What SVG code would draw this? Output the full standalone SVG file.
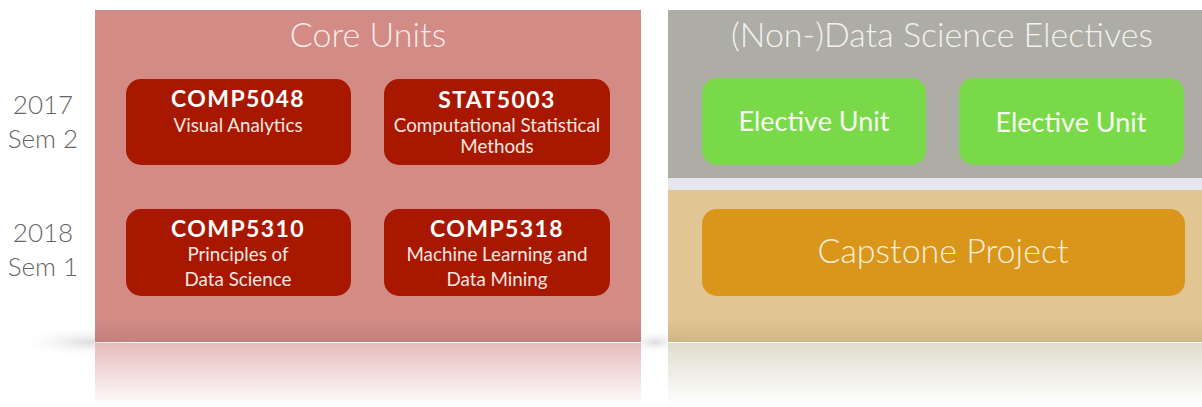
<svg xmlns="http://www.w3.org/2000/svg" width="1202" height="407" viewBox="0 0 1202 407">
<defs>
<style>
.lbl{font-family:"Lato","Open Sans",sans-serif;fill:#666666;font-size:26px;text-anchor:middle;font-weight:300}
.title{font-family:"Lato","Open Sans",sans-serif;fill:#ffffff;fill-opacity:0.85;font-size:34px;text-anchor:middle;font-weight:300}
.code{font-family:"Lato","Open Sans",sans-serif;fill:#ffffff;font-size:23px;font-weight:bold;text-anchor:middle;letter-spacing:1.4px}
.sub{font-family:"Lato","Open Sans",sans-serif;fill:#f3e6e2;font-size:18.8px;text-anchor:middle}
.core{fill:#a81800}
.elec{fill:#79d948}
</style>
<linearGradient id="refRed" x1="0" y1="0" x2="0" y2="1">
<stop offset="0" stop-color="#e6bcbb"/>
<stop offset="1" stop-color="#ffffff"/>
</linearGradient>
<linearGradient id="refTan" x1="0" y1="0" x2="0" y2="1">
<stop offset="0" stop-color="#e0ddce"/>
<stop offset="1" stop-color="#ffffff"/>
</linearGradient>
<linearGradient id="shade" x1="0" y1="0" x2="0" y2="1">
<stop offset="0" stop-color="#000000" stop-opacity="0"/>
<stop offset="1" stop-color="#000000" stop-opacity="0.08"/>
</linearGradient>
<radialGradient id="sh" cx="0.5" cy="0.5" r="0.5">
<stop offset="0" stop-color="#dcdcdc"/>
<stop offset="1" stop-color="#ffffff" stop-opacity="0"/>
</radialGradient>
</defs>
<rect width="1202" height="407" fill="#ffffff"/>
<ellipse cx="90" cy="342" rx="75" ry="16" fill="url(#sh)"/>
<ellipse cx="655" cy="342" rx="30" ry="12" fill="url(#sh)"/>
<g id="core-panel">
<rect x="95" y="10" width="546" height="332" fill="#d38b86"/>
<rect x="95" y="320" width="546" height="22" fill="url(#shade)"/>
<rect x="95" y="343" width="546" height="64" fill="url(#refRed)"/>
<text class="title" x="368" y="47">Core Units</text>
</g>
<g id="electives-panel">
<rect x="668" y="10" width="534" height="168" fill="#aeada5"/>
<rect x="668" y="178" width="534" height="12" fill="#e6e7ec"/>
<rect x="668" y="190" width="534" height="152" fill="#e1c592"/>
<rect x="668" y="320" width="534" height="22" fill="url(#shade)"/>
<rect x="668" y="343" width="534" height="64" fill="url(#refTan)"/>
<text class="title" x="942" y="47">(Non-)Data Science Electives</text>
</g>
<g id="labels">
<text class="lbl" x="43" y="114">2017</text>
<text class="lbl" x="43" y="148">Sem 2</text>
<text class="lbl" x="43" y="242">2018</text>
<text class="lbl" x="43" y="276">Sem 1</text>
</g>
<g id="comp5048">
<rect class="core" x="126" y="79" width="225" height="86" rx="15"/>
<text class="code" x="238" y="107">COMP5048</text>
<text class="sub" x="238" y="132">Visual Analytics</text>
</g>
<g id="stat5003">
<rect class="core" x="384" y="79" width="226" height="86" rx="15"/>
<text class="code" x="497" y="108">STAT5003</text>
<text class="sub" x="497" y="132">Computational Statistical</text>
<text class="sub" x="497" y="153">Methods</text>
</g>
<g id="comp5310">
<rect class="core" x="126" y="209" width="225" height="87" rx="15"/>
<text class="code" x="238" y="237">COMP5310</text>
<text class="sub" x="238" y="261">Principles of</text>
<text class="sub" x="238" y="286">Data Science</text>
</g>
<g id="comp5318">
<rect class="core" x="384" y="209" width="226" height="87" rx="15"/>
<text class="code" x="497" y="237">COMP5318</text>
<text class="sub" x="497" y="261">Machine Learning and</text>
<text class="sub" x="497" y="286">Data Mining</text>
</g>
<g id="elective1">
<rect class="elec" x="702" y="78" width="224" height="87" rx="15"/>
<text class="sub" x="814" y="131" style="font-size:27px;fill:#f6faf0">Elective Unit</text>
</g>
<g id="elective2">
<rect class="elec" x="959" y="78" width="225" height="87" rx="15"/>
<text class="sub" x="1071" y="132" style="font-size:27px;fill:#f6faf0">Elective Unit</text>
</g>
<g id="capstone">
<rect x="702" y="209" width="483" height="87" rx="15" fill="#d9961b"/>
<text class="sub" x="943" y="263" style="font-size:34px;fill:#f8eedb;font-weight:300">Capstone Project</text>
</g>
<g id="connectors"></g>
</svg>
